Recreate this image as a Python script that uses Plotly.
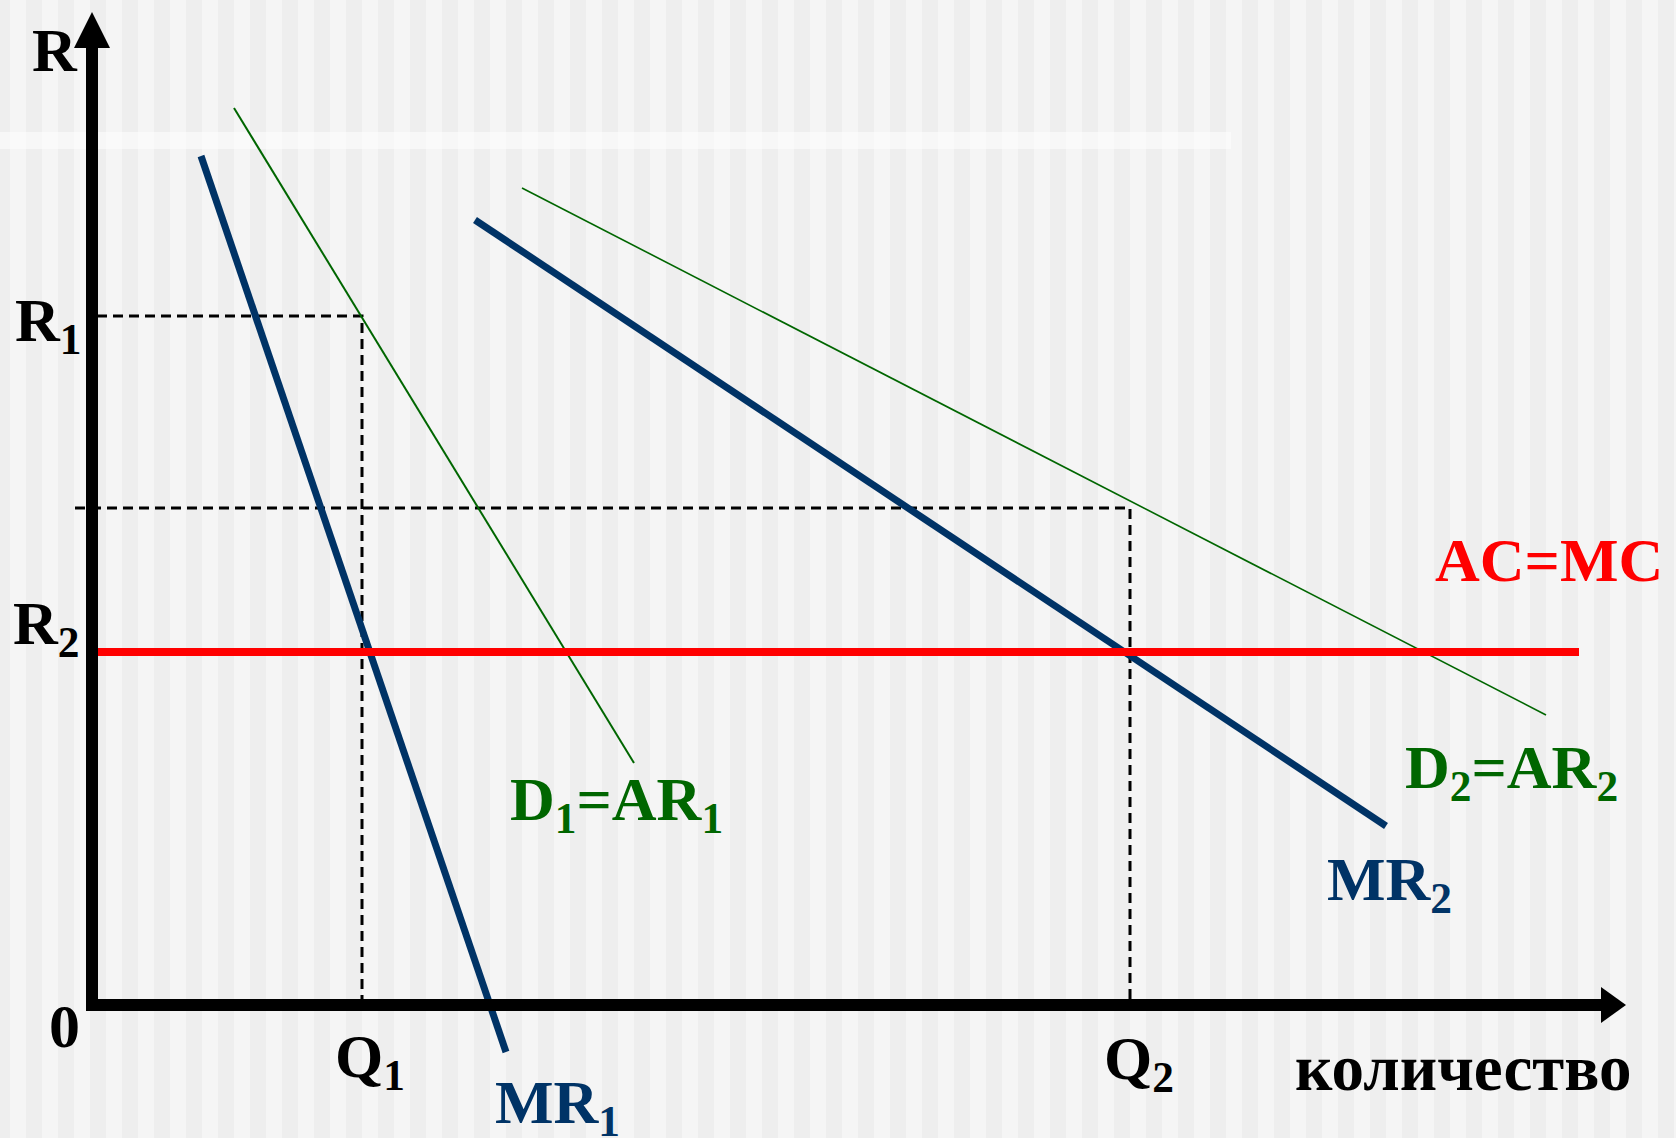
import plotly.graph_objects as go

# ---- data (quantity, revenue) in chart units ----
mr1_q = [10.9, 41.4]
mr1_r = [84.9, -4.7]
d1_q = [14.2, 54.2]
d1_r = [89.7, 24.2]
mr2_q = [38.3, 129.4]
mr2_r = [78.5, 17.9]
d2_q = [43.0, 145.4]
d2_r = [81.7, 29.0]
acmc_q = [0.0, 148.7]
acmc_r = [35.3, 35.3]
q1, r1 = 27.0, 68.9
q2, r_q2 = 103.8, 49.7
r2 = 35.3

W, H = 1676, 1138
X0, Y0 = 92, 1005  # pixel position of origin
SC = 10.0
xr = [(0 - X0) / SC, (W - X0) / SC]
yr = [(Y0 - H) / SC, (Y0 - 0) / SC]

NAVY = "#003366"
GREEN = "#006600"
RED = "#FF0000"
FONT = "Liberation Serif, Times New Roman, serif"

fig = go.Figure()

# dashed guides
dash = "10px,6px"
fig.add_trace(go.Scatter(x=[0.5, q1, q1], y=[r1, r1, 0], mode="lines",
                         line=dict(color="black", width=3, dash=dash), hoverinfo="skip"))
fig.add_trace(go.Scatter(x=[-1.7, q2, q2], y=[r_q2, r_q2, 0], mode="lines",
                         line=dict(color="black", width=3, dash=dash), hoverinfo="skip"))

fig.add_trace(go.Scatter(x=d1_q, y=d1_r, mode="lines", line=dict(color=GREEN, width=2)))
fig.add_trace(go.Scatter(x=d2_q, y=d2_r, mode="lines", line=dict(color=GREEN, width=1.6)))
fig.add_trace(go.Scatter(x=mr1_q, y=mr1_r, mode="lines", line=dict(color=NAVY, width=7)))
fig.add_trace(go.Scatter(x=mr2_q, y=mr2_r, mode="lines", line=dict(color=NAVY, width=7)))
fig.add_trace(go.Scatter(x=acmc_q, y=acmc_r, mode="lines", line=dict(color=RED, width=8)))

shapes = []
# background stripes
for k in range(-1, 54):
    a = 10 + 32 * k
    b = a + 16
    shapes.append(dict(type="rect", xref="paper", yref="paper", layer="below",
                       x0=a / W, x1=b / W, y0=0, y1=1,
                       fillcolor="#F5F5F5", line=dict(width=0)))
shapes.append(dict(type="rect", xref="paper", yref="paper", layer="below",
                   x0=0, x1=1231 / W, y0=1 - 149 / H, y1=1 - 132 / H,
                   fillcolor="rgba(255,255,255,0.5)", line=dict(width=0)))

# axes
ytip, ybase = 99.3, 95.7
xtip, xbase = 153.4, 150.9
shapes.append(dict(type="line", xref="x", yref="y", x0=0, x1=0, y0=-0.6, y1=ybase,
                   line=dict(color="black", width=12)))
shapes.append(dict(type="line", xref="x", yref="y", x0=-0.3, x1=xbase, y0=0, y1=0,
                   line=dict(color="black", width=12)))
shapes.append(dict(type="path", xref="x", yref="y",
                   path=f"M -1.8 {ybase} L 1.8 {ybase} L 0 {ytip} Z",
                   fillcolor="black", line=dict(width=0)))
shapes.append(dict(type="path", xref="x", yref="y",
                   path=f"M {xbase} -1.8 L {xbase} 1.8 L {xtip} 0 Z",
                   fillcolor="black", line=dict(width=0)))

def px(xp, yp):
    return (xp - X0) / SC, (Y0 - yp) / SC

ann = []
def lab(text, xp, yp, color="black", size=62, xanchor="left", yanchor="middle"):
    x, y = px(xp, yp)
    ann.append(dict(text=text, x=x, y=y, xref="x", yref="y", showarrow=False,
                    xanchor=xanchor, yanchor=yanchor,
                    font=dict(family=FONT, size=size, color=color, weight="bold")))

lab("R", 30, 50)
lab("R<sub>1</sub>", 13, 324)
lab("R<sub>2</sub>", 11, 627)
lab("0", 47, 1026)
lab("Q<sub>1</sub>", 333, 1060)
lab("MR<sub>1</sub>", 493, 1106, color=NAVY)
lab("D<sub>1</sub>=AR<sub>1</sub>", 508, 803, color=GREEN)
lab("AC=MC", 1433, 560, color=RED)
lab("D<sub>2</sub>=AR<sub>2</sub>", 1403, 771, color=GREEN)
lab("MR<sub>2</sub>", 1325, 883, color=NAVY)
lab("Q<sub>2</sub>", 1102, 1062)
lab("количество", 1293, 1068, size=65)

fig.update_layout(
    width=W, height=H,
    margin=dict(l=0, r=0, t=0, b=0),
    paper_bgcolor="#EEEEEE",
    plot_bgcolor="rgba(0,0,0,0)",
    showlegend=False,
    xaxis=dict(range=xr, visible=False, fixedrange=True),
    yaxis=dict(range=yr, visible=False, fixedrange=True),
    shapes=shapes,
    annotations=ann,
)

fig.write_html("out.html", config={"displayModeBar": False},
               post_script="document.body.style.margin='0';")
